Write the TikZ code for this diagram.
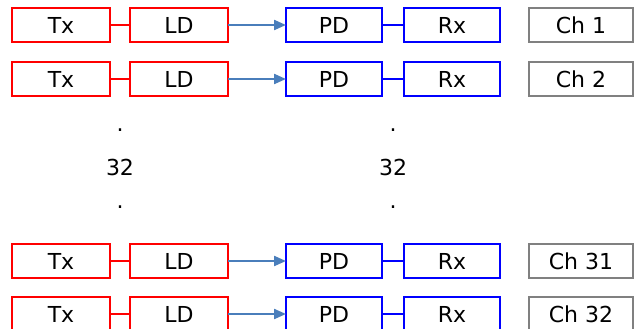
\documentclass[tikz,border=0pt]{standalone}
\usepackage{fontspec}
\setmainfont{DejaVu Sans}
\usetikzlibrary{arrows.meta}
\definecolor{arrowblue}{RGB}{74,126,187}
\definecolor{chgray}{RGB}{128,128,128}
\begin{document}
\begin{tikzpicture}[x=1pt,y=-1pt,
  box/.style={draw, line width=2.2pt, minimum height=34pt, inner sep=0pt, outer sep=0pt, font=\fontsize{22}{24}\selectfont},
  txbox/.style={box, draw=red, minimum width=98pt},
  pdbox/.style={box, draw=blue, minimum width=96pt},
  chbox/.style={box, draw=chgray, minimum width=104pt},
  redlink/.style={draw=red, line width=2.2pt},
  bluelink/.style={draw=blue, line width=2.2pt},
  sig/.style={draw=arrowblue, line width=2.2pt, -{Triangle[length=12pt,width=10pt]}},
  lbl/.style={inner sep=0pt, font=\fontsize{22}{24}\selectfont}
]
\useasboundingbox[fill=white] (0,0) rectangle (634,329);
\foreach \r/\y/\c in {a/25/1, b/79/2, c/261/31, d/314/32}{
  \node[txbox] (tx\r) at (61,\y) {Tx};
  \node[txbox] (ld\r) at (179,\y) {LD};
  \node[pdbox] (pd\r) at (334,\y) {PD};
  \node[pdbox] (rx\r) at (452,\y) {Rx};
  \node[chbox] (ch\r) at (581,\y) {Ch \c};
  \draw[redlink] (tx\r) -- (ld\r);
  \draw[bluelink] (pd\r) -- (rx\r);
  \draw[sig] (ld\r) -- (pd\r);
}
\node[lbl] (d1) at (120,130) {.};
\node[lbl] (n1) at (120,167) {32};
\node[lbl] (d2) at (120,207) {.};
\node[lbl] (d3) at (393,130) {.};
\node[lbl] (n2) at (393,167) {32};
\node[lbl] (d4) at (393,207) {.};
\end{tikzpicture}
\end{document}
